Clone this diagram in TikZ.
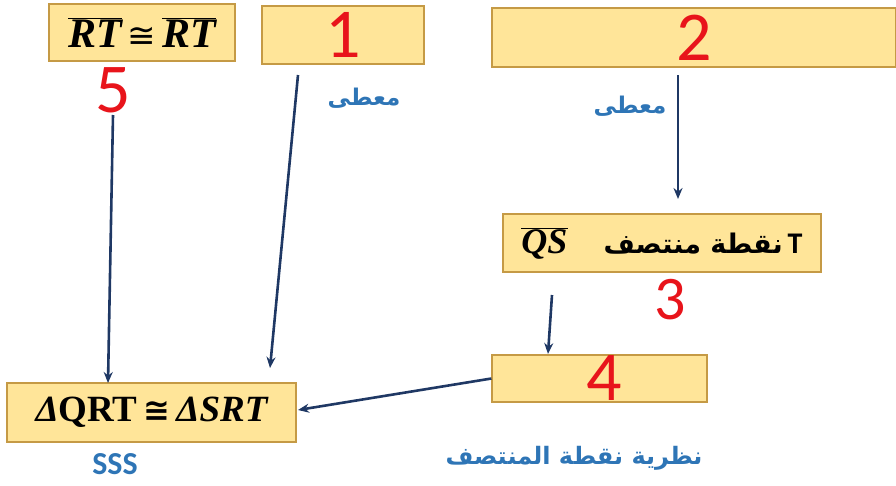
\documentclass[tikz,border=0pt]{standalone}
\usepackage{fontspec}
\usetikzlibrary{arrows.meta}
\setmainfont{Liberation Serif}
\newfontfamily\arabicfont[Script=Arabic]{DejaVu Sans}
\newfontfamily\numfont{Carlito}
\newfontfamily\symfont{DejaVu Sans}
\newcommand{\congsym}{{\symfont ≅}}
\TeXXeTstate=1
\definecolor{boxfill}{HTML}{FFE599}
\definecolor{boxline}{HTML}{C59A45}
\definecolor{navy}{HTML}{1F3864}
\definecolor{rednum}{HTML}{E8141B}
\definecolor{bluetxt}{HTML}{2E75B6}
\tikzset{
  ybox/.style={draw=boxline, line width=1.2pt, fill=boxfill, inner sep=0pt},
  rnum/.style={text=rednum, font=\numfont\fontsize{70}{70}\selectfont, inner sep=0pt},
  btxt/.style={text=bluetxt, inner sep=0pt},
  arr/.style={draw=navy, line width=2.6pt, -{Stealth[length=11pt,width=9pt]}},
}
\begin{document}
\begin{tikzpicture}[x=1pt,y=-1pt]
\useasboundingbox (0,0) rectangle (896,485);
% boxes
\node[ybox, minimum width=186pt, minimum height=57pt, font=\fontsize{42}{42}\selectfont] (b5) at (142,32.5)
  {$\overline{\mbox{\bfseries\itshape RT}}$\hspace{6pt}{\fontsize{34}{34}\selectfont\congsym}\hspace{6pt}$\overline{\mbox{\bfseries\itshape RT}}$};
\node[ybox, rnum, minimum width=162pt, minimum height=58pt] (b1) at (343,35) {1};
\node[ybox, rnum, minimum width=404pt, minimum height=59pt] (b2) at (694,37.5) {2\hspace{50pt}};
\node[ybox, minimum width=318pt, minimum height=58pt] (b3) at (662,243)
  {\fontsize{36}{36}\selectfont$\overline{\mbox{\bfseries\itshape QS}}$\hspace{36pt}{\arabicfont\bfseries\fontsize{27}{27}\selectfont\beginR نقطة منتصف\endR}\hspace{5pt}{\numfont\bfseries\fontsize{30}{30}\selectfont T}\hspace{2pt}};
\node[ybox, rnum, minimum width=215pt, minimum height=47pt] (b4) at (599.5,378.5) {\hspace{9pt}4};
\node[ybox, minimum width=289pt, minimum height=59pt, font=\fontsize{37}{37}\selectfont\bfseries] (bc) at (151.5,412.5)
  {\itshape Δ\upshape QRT\hspace{6pt}{\fontsize{32}{32}\selectfont\congsym}\hspace{6pt}\itshape ΔSRT};
% labels
\node[rnum] (n5) at (113,90) {5};
\node[rnum, font=\numfont\fontsize{62}{62}\selectfont] (n3) at (670,300) {3};
\node[btxt, font=\arabicfont\bfseries\fontsize{23}{23}\selectfont] (g1) at (364,98) {\beginR معطى\endR};
\node[btxt, font=\arabicfont\bfseries\fontsize{23}{23}\selectfont] (g2) at (630,106) {\beginR معطى\endR};
\node[btxt, font=\numfont\bfseries\fontsize{32}{32}\selectfont] (sss) at (115,464) {SSS};
\node[btxt, font=\arabicfont\bfseries\fontsize{24}{24}\selectfont] (thm) at (574,458) {\beginR نظرية نقطة المنتصف\endR};
% arrow endpoints
\coordinate (s5) at (113,115);
\coordinate (e5) at (108,383);
\coordinate (s1) at (298,75);
\coordinate (e1) at (270,368);
\coordinate (s2) at (678,75);
\coordinate (e2) at (678,199);
\coordinate (s3) at (552,295);
\coordinate (e3) at (548,354);
\coordinate (e4) at (298,410);
% arrows
\draw[arr] (s5) -- (e5);
\draw[arr] (s1) -- (e1);
\draw[arr] (s2) -- (e2);
\draw[arr] (s3) -- (e3);
\draw[arr] (b4.west) -- (e4);
\end{tikzpicture}
\end{document}
